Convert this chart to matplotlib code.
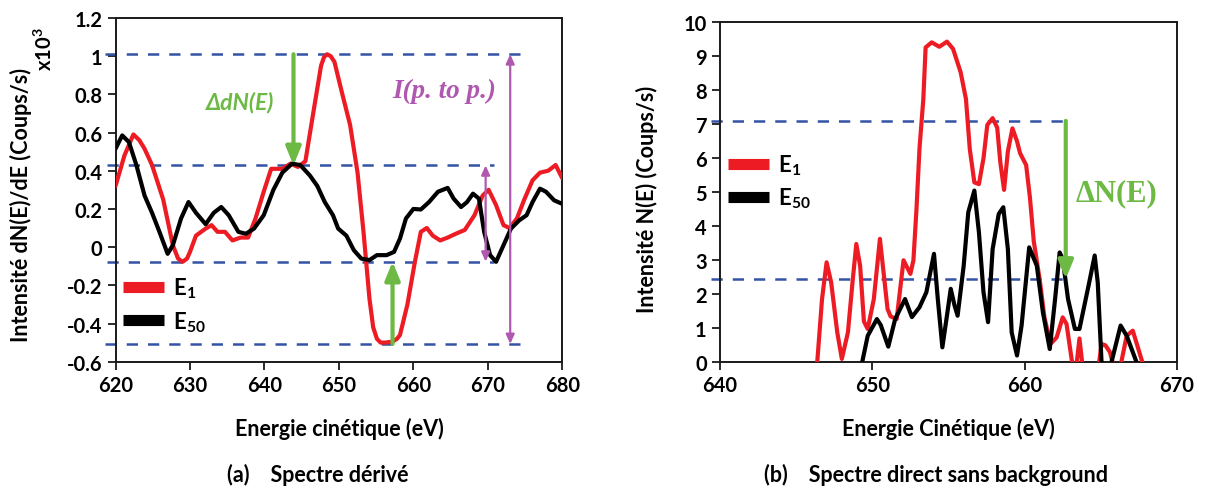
import numpy as np
import matplotlib
matplotlib.use('Agg')
import matplotlib.pyplot as plt
from matplotlib.patches import FancyArrowPatch
from matplotlib.ticker import FuncFormatter, MultipleLocator

plt.rcParams['font.family'] = ['Lato', 'DejaVu Sans']
plt.rcParams['font.weight'] = 'bold'
plt.rcParams['axes.labelweight'] = 'bold'
plt.rcParams['axes.unicode_minus'] = False
plt.rcParams['mathtext.fontset'] = 'custom'
plt.rcParams['mathtext.rm'] = 'Lato:bold'
plt.rcParams['mathtext.bf'] = 'Lato:bold'
plt.rcParams['mathtext.it'] = 'Lato:bold:italic'
plt.rcParams['mathtext.default'] = 'rm'

# (a) derivative spectrum, x10^3 counts/s
da_e1_x = [620.0, 621.2, 622.4, 623.2, 623.9, 624.9, 626.4, 627.7, 628.4, 629.0, 629.6,
           630.0, 630.8, 632.1, 632.9, 633.7, 634.7, 635.7, 636.8, 637.8, 638.8, 639.9,
           640.9, 642.4, 643.5, 644.5, 645.5, 646.5, 647.6, 648.0, 648.4, 648.9, 649.4,
           650.4, 651.5, 652.5, 653.3, 654.1, 654.6, 655.1, 655.6, 656.2, 657.2, 657.8,
           658.2, 659.2, 660.2, 661.0, 661.8, 662.6, 663.6, 664.6, 665.7, 666.9, 668.2,
           669.3, 670.1, 671.1, 672.1, 672.9, 673.9, 674.9, 676.0, 677.0, 678.1, 679.1,
           680.0]
da_e1_y = [0.32, 0.48, 0.59, 0.56, 0.515, 0.43, 0.25, 0.01, -0.06, -0.077, -0.06,
           -0.025, 0.06, 0.097, 0.115, 0.08, 0.08, 0.035, 0.05, 0.05, 0.15, 0.29,
           0.41, 0.41, 0.437, 0.42, 0.45, 0.69, 0.95, 0.995, 1.01, 1.0, 0.97,
           0.81, 0.64, 0.39, 0.08, -0.27, -0.42, -0.48, -0.50, -0.50, -0.495, -0.48,
           -0.46, -0.30, -0.077, 0.08, 0.10, 0.06, 0.035, 0.05, 0.07, 0.09, 0.167,
           0.27, 0.30, 0.22, 0.115, 0.10, 0.15, 0.25, 0.35, 0.39, 0.40, 0.43,
           0.36]
da_e50_x = [620.0, 620.9, 621.8, 622.8, 623.9, 624.9, 625.9, 627.0, 627.7, 628.8, 629.8,
            630.8, 632.1, 633.2, 634.2, 635.2, 636.5, 637.5, 638.6, 639.9, 641.2, 642.4,
            643.7, 644.8, 646.1, 647.1, 648.1, 649.2, 649.9, 651.0, 652.0, 653.0, 654.1,
            655.1, 656.4, 657.4, 658.2, 659.0, 660.0, 661.0, 662.1, 663.3, 664.6, 665.4,
            666.4, 667.2, 668.0, 668.8, 669.5, 670.3, 671.1, 672.1, 673.1, 674.2, 675.2,
            676.0, 677.0, 677.8, 678.9, 679.9]
da_e50_y = [0.515, 0.585, 0.55, 0.43, 0.27, 0.18, 0.08, -0.035, 0.01, 0.15, 0.236,
            0.18, 0.12, 0.18, 0.21, 0.167, 0.08, 0.07, 0.097, 0.167, 0.30, 0.39,
            0.437, 0.43, 0.375, 0.32, 0.236, 0.167, 0.097, 0.06, -0.016, -0.06, -0.068,
            -0.042, -0.042, -0.025, 0.045, 0.15, 0.20, 0.197, 0.236, 0.29, 0.31, 0.254,
            0.21, 0.236, 0.28, 0.254, 0.08, -0.042, -0.077, 0.01, 0.097, 0.14, 0.167,
            0.236, 0.306, 0.29, 0.245, 0.228]

# (b) direct spectrum without background, counts/s
db_e1_x = [646.3, 646.7, 647.0, 647.3, 647.7, 648.0, 648.4, 648.7, 648.95, 649.2, 649.45,
           649.7, 650.1, 650.5, 650.75, 651.0, 651.2, 651.6, 652.05, 652.5, 652.7, 652.9,
           653.1, 653.35, 653.5, 653.9, 654.4, 654.9, 655.3, 655.8, 656.15, 656.4, 656.7,
           657.0, 657.3, 657.55, 657.9, 658.2, 658.4, 658.65, 658.9, 659.2, 659.5, 659.7,
           660.1, 660.35, 660.6, 661.0, 661.3, 661.7, 662.1, 662.5, 662.75, 663.1, 663.35,
           663.6, 663.85, 664.8, 665.05, 665.3, 665.6, 665.9, 666.3, 666.7, 667.1, 667.4,
           667.8]
db_e1_y = [-0.5, 1.86, 2.94, 2.35, 0.88, 0.1, 0.88, 2.35, 3.48, 2.84, 1.2,
           0.98, 1.86, 3.63, 2.6, 1.57, 1.35, 1.27, 3.0, 2.6, 3.0, 4.5,
           6.3, 7.74, 9.26, 9.41, 9.28, 9.43, 9.22, 8.53, 7.74, 6.27, 5.29,
           5.24, 6.0, 6.98, 7.18, 6.9, 5.9, 5.07, 6.2, 6.88, 6.5, 6.15,
           5.8, 4.84, 3.56, 2.4, 1.32, 0.54, 0.73, 1.32, 1.13, 0.05, -0.3,
           0.7, -0.3, -0.3, 0.54, 0.5, 0.3, -0.2, -0.1, 0.78, 0.93, 0.49,
           -0.1]
db_e50_x = [649.1, 649.7, 650.3, 650.55, 651.05, 651.5, 652.15, 652.6, 653.1, 653.55, 654.05,
            654.3, 654.6, 654.9, 655.15, 655.4, 655.6, 656.0, 656.3, 656.7, 657.0, 657.3,
            657.6, 657.9, 658.3, 658.6, 658.9, 659.15, 659.5, 659.8, 660.3, 660.8, 661.2,
            661.65, 662.0, 662.3, 662.5, 662.85, 663.3, 663.6, 664.2, 664.6, 664.8, 665.05,
            665.3, 665.7, 666.3, 666.7, 667.35, 667.6]
db_e50_y = [-0.5, 0.78, 1.27, 1.1, 0.46, 1.27, 1.86, 1.33, 1.62, 2.06, 3.19,
            1.86, 0.44, 1.37, 2.16, 1.67, 1.37, 2.84, 4.41, 5.05, 3.82, 2.06,
            1.18, 3.33, 4.36, 4.56, 3.33, 0.88, 0.2, 1.08, 3.38, 2.84, 1.47,
            0.39, 1.86, 3.23, 3.04, 1.86, 0.98, 0.98, 2.26, 3.14, 2.35, 0.0,
            -0.6, 0.0, 1.08, 0.78, 0.0, -0.4]

RED = '#ed1c24'
BLUE = '#3453a6'
GREEN = '#6cb944'
PURPLE = '#b058b0'
DARK = '#1a1a1a'

fig = plt.figure(figsize=(12.07, 4.89), dpi=100)
ax1 = fig.add_axes([0.0957, 0.2583, 0.3702, 0.7029])
ax2 = fig.add_axes([0.5965, 0.2571, 0.3786, 0.6953])


def style(ax):
    for s in ax.spines.values():
        s.set_color(DARK)
        s.set_linewidth(1.4)
    ax.tick_params(direction='out', length=5.5, width=1.3, color=DARK,
                   labelsize=14.5, pad=4)


def arrow(ax, p0, p1, color, lw, style_str):
    a = FancyArrowPatch(p0, p1, arrowstyle=style_str, color=color, lw=lw,
                        mutation_scale=10, shrinkA=0, shrinkB=0, clip_on=False, zorder=5)
    ax.add_patch(a)


def curve(ax, x, y, color, label):
    ax.plot(x, y, color=color, lw=3, label=label, solid_joinstyle='round',
            solid_capstyle='round', zorder=4 if color == 'black' else 3)


def legend(ax, yc):
    leg = ax.legend(loc='center left', bbox_to_anchor=(0.017, yc), frameon=False,
                    fontsize=16, handlelength=1.85, handletextpad=0.4, labelspacing=0.4,
                    borderpad=0, borderaxespad=0)
    for h in leg.get_lines():
        h.set_linewidth(8)
        h.set_solid_capstyle('butt')


dash = (0, (4.5, 4))

# ---- (a)
style(ax1)
curve(ax1, da_e1_x, da_e1_y, RED, 'E$_1$')
curve(ax1, da_e50_x, da_e50_y, 'black', 'E$_{50}$')
ax1.set_xlim(620, 680)
ax1.set_ylim(-0.6, 1.2)
ax1.xaxis.set_major_locator(MultipleLocator(10))
ax1.yaxis.set_major_locator(MultipleLocator(0.2))
ax1.yaxis.set_major_formatter(FuncFormatter(lambda v, p: '%g' % round(v, 2)))

ax1.plot([618.6, 674.6], [1.01, 1.01], color=BLUE, lw=1.8, ls=dash, clip_on=False, zorder=2)
ax1.plot([618.8, 670.8], [0.428, 0.428], color=BLUE, lw=1.8, ls=dash, clip_on=False, zorder=2)
ax1.plot([618.8, 670.8], [-0.076, -0.076], color=BLUE, lw=1.8, ls=dash, clip_on=False, zorder=2)
ax1.plot([618.6, 674.6], [-0.507, -0.507], color=BLUE, lw=1.8, ls=dash, clip_on=False, zorder=2)

arrow(ax1, (643.9, 1.01), (643.9, 0.428), GREEN, 3, '-|>,head_length=1.1,head_width=0.45')
arrow(ax1, (657.2, -0.507), (657.2, -0.076), GREEN, 3, '-|>,head_length=1.1,head_width=0.45')
arrow(ax1, (669.7, 0.428), (669.7, -0.076), PURPLE, 1.6, '<|-|>,head_length=0.55,head_width=0.25')
arrow(ax1, (673.0, 1.01), (673.0, -0.507), PURPLE, 1.6, '<|-|>,head_length=0.55,head_width=0.25')

ax1.text(636.8, 0.76, '\u0394dN(E)', color=GREEN, fontsize=16.5, style='italic',
         fontweight='bold', ha='center', va='center', family=['Lato', 'DejaVu Sans'])
ax1.text(664.2, 0.82, 'I(p. to p.)', color=PURPLE, fontsize=19.5, style='italic',
         fontweight='bold', ha='center', va='center', family='Liberation Serif')

ax1.set_xlabel('Energie cinétique (eV)', fontsize=15.5)
ax1.xaxis.set_label_coords(0.5, -0.16)
ax1.set_ylabel('Intensité dN(E)/dE (Coups/s)', fontsize=15.5)
ax1.yaxis.set_label_coords(-0.187, 0.46)
fig.text(45 / 1207, 1 - 49 / 489, 'x10$^3$', rotation=90, fontsize=14.5,
         ha='center', va='center')
legend(ax1, 0.166)

# ---- (b)
style(ax2)
curve(ax2, db_e1_x, db_e1_y, RED, 'E$_1$')
curve(ax2, db_e50_x, db_e50_y, 'black', 'E$_{50}$')
ax2.set_xlim(640, 670)
ax2.set_ylim(0, 10)
ax2.xaxis.set_major_locator(MultipleLocator(10))
ax2.yaxis.set_major_locator(MultipleLocator(1))

ax2.plot([639.4, 663.0], [7.1, 7.1], color=BLUE, lw=1.8, ls=dash, clip_on=False, zorder=2)
ax2.plot([639.4, 663.0], [2.45, 2.45], color=BLUE, lw=1.8, ls=dash, clip_on=False, zorder=2)
arrow(ax2, (662.7, 7.1), (662.7, 2.45), GREEN, 3, '-|>,head_length=1.1,head_width=0.45')
ax2.text(666.0, 5.0, '\u0394N(E)', color=GREEN, fontsize=22, fontweight='bold',
         ha='center', va='center', family='Liberation Serif')

ax2.set_xlabel('Energie Cinétique (eV)', fontsize=15.5)
ax2.xaxis.set_label_coords(0.5, -0.16)
ax2.set_ylabel('Intensité N(E) (Coups/s)', fontsize=15.5)
ax2.yaxis.set_label_coords(-0.135, 0.483)
legend(ax2, 0.532)

fig.text(318 / 1207, 1 - 475 / 489, '(a)    Spectre dérivé', fontsize=15.5,
         ha='center', va='center')
fig.text(936 / 1207, 1 - 475 / 489, '(b)    Spectre direct sans background', fontsize=15.5,
         ha='center', va='center')

fig.savefig('out.png', dpi=100)
